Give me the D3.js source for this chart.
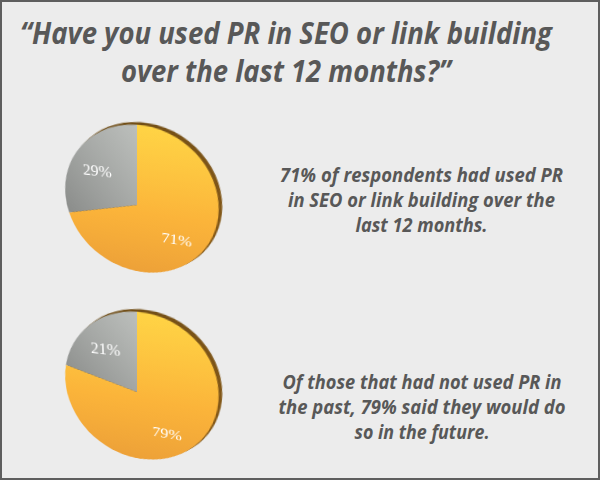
<!DOCTYPE html>
<html lang="en">
  <head>
    <meta charset="utf-8">
    <title>PR in SEO survey</title>
    <style>
    body { margin: 0; background: #fff; }
    #frame {
      position: relative;
      width: 600px;
      height: 480px;
      box-sizing: border-box;
      border: 2px solid #5e5e5e;
      background: #ececec;
      overflow: hidden;
    }
    #words { position: absolute; left: -2px; top: -2px; }
    .pie {
      position: absolute;
      width: 200px;
      height: 200px;
      transform: perspective(350px) rotateX(-25deg) rotateY(-18deg);
    }
    .title, .caption {
      font-family: "Open Sans", sans-serif;
      font-style: italic;
      font-weight: 700;
      fill: #585858;
      text-anchor: middle;
    }
    .title { font-size: 30px; }
    .caption { font-size: 19.5px; }
    .pct {
      font-family: "Liberation Serif", "DejaVu Serif", serif;
      font-size: 17px;
      fill: #fff;
      text-anchor: middle;
    }
    </style>
  </head>
  <body>
    <div id="frame">
      <svg id="words" width="600" height="480"></svg>
    </div>

    <script src="https://d3js.org/d3.v7.min.js"></script>
    <script>

    // data
    var sliceNames = ["Yes", "No"];
    var usedValues = [71, 29];
    var futureValues = [79, 21];

    var titleLines = ["\u201cHave you used PR in SEO or link building", "over the last 12 months?\u201d"];
    var usedText = ["71% of respondents had used PR", "in SEO or link building over the", "last 12 months."];
    var futureText = ["Of those that had not used PR in", "the past, 79% said they would do", "so in the future."];

    // layout (pixel positions of each text block, widths to fit the lines)
    var blocks = [
      {lines: titleLines, cls: "title", x: 286, y: 44, step: 38, widths: [532, 330]},
      {lines: usedText, cls: "caption", x: 421.5, y: 182, step: 25, widths: [283, 267, 132]},
      {lines: futureText, cls: "caption", x: 422, y: 389, step: 25, widths: [279, 287, 135]}
    ];

    var words = d3.select("#words");
    blocks.forEach(function(b) {
      words.selectAll(null)
        .data(b.lines)
        .enter().append("text")
          .attr("class", b.cls)
          .attr("x", b.x)
          .attr("y", function(d, i) { return b.y + i * b.step; })
          .attr("textLength", function(d, i) { return b.widths[i]; })
          .attr("lengthAdjust", "spacingAndGlyphs")
          .text(function(d) { return d; });
    });

    // pies
    var size = 200, r = 80;
    var pie = d3.pie().sort(null).value(function(d) { return d.value; });
    var arc = d3.arc().innerRadius(0).outerRadius(r);
    var labelArc = d3.arc().innerRadius(r * 0.66).outerRadius(r * 0.66);

    function drawPie(id, values, cx, cy) {
      var data = sliceNames.map(function(n, i) { return {name: n, value: values[i]}; });

      var svg = d3.select("#frame").append("div")
          .attr("class", "pie")
          .style("left", (cx - size / 2 - 2) + "px")
          .style("top", (cy - size / 2 - 2) + "px")
        .append("svg")
          .attr("width", size)
          .attr("height", size);

      var defs = svg.append("defs");
      var og = defs.append("linearGradient").attr("id", id + "-orange")
          .attr("x1", 0).attr("y1", 0).attr("x2", 0).attr("y2", 1);
      og.append("stop").attr("offset", "0%").attr("stop-color", "#ffd445");
      og.append("stop").attr("offset", "55%").attr("stop-color", "#fbb43a");
      og.append("stop").attr("offset", "100%").attr("stop-color", "#eda138");
      var gg = defs.append("linearGradient").attr("id", id + "-gray")
          .attr("x1", 1).attr("y1", 0).attr("x2", 0).attr("y2", 1);
      gg.append("stop").attr("offset", "0%").attr("stop-color", "#bcbfbc");
      gg.append("stop").attr("offset", "100%").attr("stop-color", "#8a8c8a");
      var rg = defs.append("linearGradient").attr("id", id + "-rim")
          .attr("x1", 0).attr("y1", 0).attr("x2", 1).attr("y2", 1);
      rg.append("stop").attr("offset", "0%").attr("stop-color", "#6a4a16");
      rg.append("stop").attr("offset", "100%").attr("stop-color", "#8a5c18");

      var g = svg.append("g")
          .attr("transform", "translate(" + size / 2 + "," + size / 2 + ")");

      // dark edge of the disc
      g.append("circle")
          .attr("cx", 3)
          .attr("cy", -2.5)
          .attr("r", r)
          .attr("fill", "url(#" + id + "-rim)");

      var fills = [id + "-orange", id + "-gray"];
      g.selectAll(".slice")
        .data(pie(data))
        .enter().append("path")
          .attr("class", "slice")
          .attr("d", arc)
          .attr("fill", function(d, i) { return "url(#" + fills[i] + ")"; });

      g.selectAll(".pct")
        .data(pie(data))
        .enter().append("text")
          .attr("class", "pct")
          .attr("transform", function(d) { return "translate(" + labelArc.centroid(d) + ")"; })
          .attr("dy", "0.35em")
          .text(function(d) { return d.data.value + "%"; });
    }

    drawPie("p1", usedValues, 137, 205);
    drawPie("p2", futureValues, 137, 392);

    </script>
  </body>
</html>
